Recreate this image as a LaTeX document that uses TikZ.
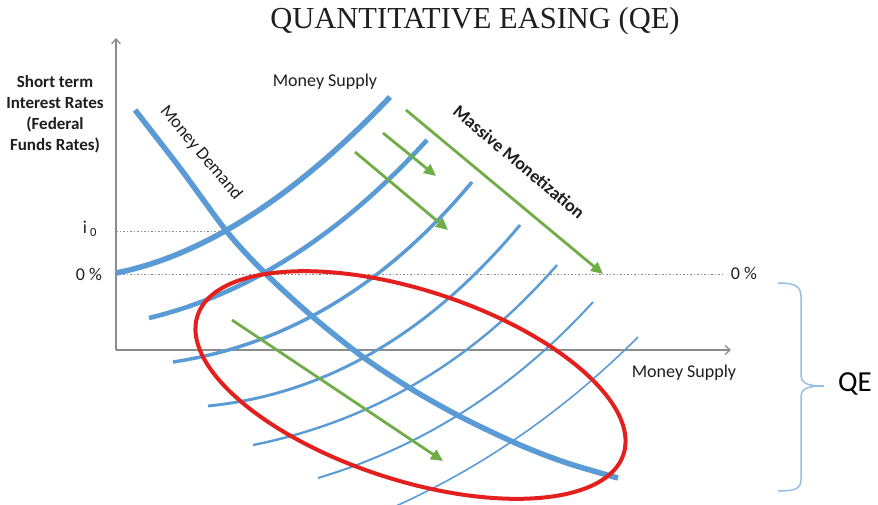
\documentclass[tikz,border=0pt]{standalone}
\usepackage{fontspec}
\setmainfont{Carlito}
\newfontfamily\titlefont{Liberation Serif}
\usetikzlibrary{arrows.meta,calc}
\definecolor{sblue}{RGB}{91,155,213}
\definecolor{sgreen}{RGB}{112,173,71}
\definecolor{sred}{RGB}{228,32,30}
\definecolor{axgray}{RGB}{140,140,140}
\definecolor{bracecol}{RGB}{150,190,228}
\definecolor{txt}{RGB}{30,30,30}
\newcommand{\qcurve}[4]{% width, start, control, end
  \draw[supply, line width=#1] (#2) .. controls ($(#2)!0.6667!(#3)$) and ($(#4)!0.6667!(#3)$) .. (#4);}
\begin{document}
\begin{tikzpicture}[x=1pt,y=-1pt,
  supply/.style={draw=sblue},
  demand/.style={draw=sblue, line width=5.5pt},
  shiftarrow/.style={draw=sgreen, line width=2.8pt, -{Triangle[length=12pt,width=11pt]}},
  axis/.style={draw=axgray, line width=1.3pt, -{Straight Barb[length=5pt,width=9pt]}},
  guide/.style={draw=axgray, line width=1pt, dash pattern=on 1.5pt off 2pt},
  lbl/.style={font=\fontsize{18}{21}\selectfont, text=txt, inner sep=0pt},
  boldlbl/.style={font=\bfseries\fontsize{18}{21}\selectfont, text=txt, inner sep=0pt},
  bracestyle/.style={draw=bracecol, line width=1.5pt}
]
\useasboundingbox (0,0) rectangle (878,505);

% axes
\coordinate (O) at (116,350);
\coordinate (Ytop) at (116,38);
\coordinate (Xend) at (731,350);
\draw[axis] (O) -- (Ytop);
\draw[axis] (O) -- (Xend);

% guide lines
\coordinate (i0L) at (116,232);
\coordinate (i0R) at (228,232);
\coordinate (zL) at (116,274);
\coordinate (zR) at (724,274);
\draw[guide] (i0L) -- (i0R);
\draw[guide] (zL) -- (zR);

% supply curves (start, control, end)
\coordinate (s1a) at (116,273); \coordinate (s1c) at (247.4,246.7); \coordinate (s1b) at (390,97);
\coordinate (s2a) at (149,318); \coordinate (s2c) at (297.6,282.3); \coordinate (s2b) at (427,140);
\coordinate (s3a) at (173,362); \coordinate (s3c) at (343.3,336.5); \coordinate (s3b) at (472,182);
\coordinate (s4a) at (208,406); \coordinate (s4c) at (383.8,388.4); \coordinate (s4b) at (520,225);
\coordinate (s5a) at (253,445); \coordinate (s5c) at (431.5,409.3); \coordinate (s5b) at (557,265);
\coordinate (s6a) at (318,478); \coordinate (s6c) at (476.1,430.6); \coordinate (s6b) at (593,302);
\coordinate (s7a) at (396,506); \coordinate (s7c) at (528.7,446.3); \coordinate (s7b) at (638,337);
\qcurve{5.5pt}{s1a}{s1c}{s1b}
\qcurve{4.6pt}{s2a}{s2c}{s2b}
\qcurve{3.5pt}{s3a}{s3c}{s3b}
\qcurve{2.9pt}{s4a}{s4c}{s4b}
\qcurve{2.4pt}{s5a}{s5c}{s5b}
\qcurve{2.0pt}{s6a}{s6c}{s6b}
\qcurve{1.6pt}{s7a}{s7c}{s7b}

% demand curve
\draw[demand] plot[smooth] coordinates {(135,110) (180,168) (228,233) (267,275) (313,317) (363,357) (413,390) (463,418) (520,445) (567,463) (618,478)};

% green arrows
\coordinate (a1) at (355,152); \coordinate (a2) at (448,230);
\coordinate (b1) at (383,133); \coordinate (b2) at (436,176);
\coordinate (c1) at (406,110); \coordinate (c2) at (603,274);
\coordinate (d1) at (232,320); \coordinate (d2) at (443,461);
\draw[shiftarrow] (a1) -- (a2);
\draw[shiftarrow] (b1) -- (b2);
\draw[shiftarrow] (c1) -- (c2);
\draw[shiftarrow] (d1) -- (d2);

% red ellipse
\coordinate (ec) at (410.5,385);
\draw[sred, line width=4pt, rotate around={-18:(ec)}] (ec) ellipse [x radius=224pt, y radius=95pt];

% brace
\draw[bracestyle] (778,283) .. controls (795,283) and (801,286) .. (801,297) -- (801,374) .. controls (801,383) and (806,386) .. (824,386) .. controls (806,386) and (801,389) .. (801,398) -- (801,479) .. controls (801,489) and (795,491) .. (778,491);

% texts
\node[font=\titlefont\fontsize{30.5}{33}\selectfont, text=txt, inner sep=0pt] (title) at (475,21) {QUANTITATIVE EASING (QE)};
\node[font=\bfseries\fontsize{17}{21}\selectfont, text=txt, inner sep=0pt, align=center] (ylab) at (55,114) {Short term\\Interest Rates\\(Federal\\Funds Rates)};
\node[lbl] (mstop) at (325,82) {Money Supply};
\node[lbl] (msbot) at (684,373) {Money Supply};
\node[lbl, rotate=-50] (mdem) at (201,153) {Money Demand};
\node[boldlbl, rotate=-40] (mm) at (519,162) {Massive Monetization};
\node[lbl] (zleft) at (89,274) {0 \%};
\node[lbl] (zright) at (744,273) {0 \%};
\node[lbl] (ilab) at (90,229) {i\,\textsubscript{0}};
\node[font=\fontsize{29}{32}\selectfont, text=black, inner sep=0pt] (qe) at (855,384) {QE};
\end{tikzpicture}
\end{document}
